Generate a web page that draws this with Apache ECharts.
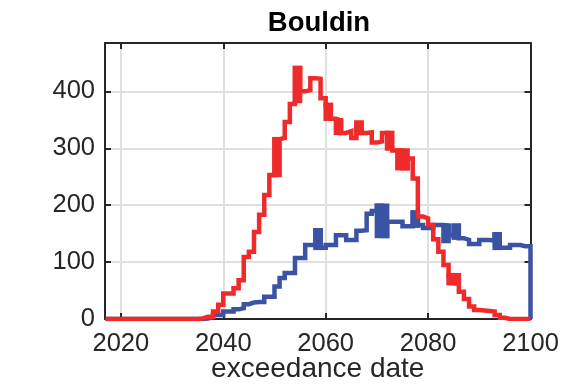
<!DOCTYPE html>
<html><head><meta charset="utf-8">
<script src="https://cdn.jsdelivr.net/npm/echarts@6/dist/echarts.min.js"></script>
<style>html,body{margin:0;padding:0;background:#fff}#c{width:567px;height:391px}</style>
</head><body><div id="c"></div>
<script>
// bin left edges (1-year bins), last entry is the closing edge
const binEdges = [2017,2018,2019,2020,2021,2022,2023,2024,2025,2026,2027,2028,2029,2030,2031,2032,2033,2034,
  2035,2036,2037,2038,2039,2040,2041,2042,2043,2044,2045,2046,2047,2048,2049,2050,2051,2052,2053,2054,
  2055,2056,2057,2058,2059,2060,2061,2062,2063,2064,2065,2066,2067,2068,2069,2070,2071,2072,2073,2074,
  2075,2076,2077,2078,2079,2080,2081,2082,2083,2084,2085,2086,2087,2088,2089,2090,2091,2092,2093,2094,
  2095,2096,2097,2098,2099,2100];
const redCounts = [0,0,0,0,0,0,0,0,0,0,0,0,0,0,0,0,0,0,
  1,4,4,13,25,45,45,54,68,109,118,153,183,218,253,316,318,346,378,441,
  400,402,423,422,388,376,352,349,327,330,318,345,327,328,310,312,327,300,296,296,
  265,282,247,180,177,165,140,118,95,77,63,48,35,22,16,15,14,13,7,2,
  0,0,0,0,0];
const blueCounts = [0,0,0,0,0,0,0,0,0,0,0,0,0,0,0,0,0,0,
  0,1,3,7,7,13,13,17,19,26,29,30,30,39,39,57,72,81,81,107,
  107,130,130,156,125,130,130,147,147,139,139,155,156,185,190,199,146,171,171,171,
  163,163,187,165,160,160,165,165,164,147,164,142,139,132,132,139,139,138,149,125,
  125,130,130,128,128];
// bins where the outline is a solid filled block: [startYear, endYear, low, high]
const redBlocks = [[2050,2051,253,316],[2054,2055,383,441],[2060,2061,352,376],[2062,2063,327,349],
  [2066,2067,327,345],[2072,2073,300,327],[2074,2076,265,296],[2084,2086,63,77]];
const blueBlocks = [[2058,2059,125,156],[2070,2072,146,199],[2077,2078,164,187],[2083,2084,137,164],
  [2085,2086,143,164],[2093,2094,125,149]];
const xTickLabels = [2020,2040,2060,2080,2100];
const yTickLabels = [0,100,200,300,400];

const RED = '#EE2A2A', BLUE = '#3A53A4', LW = 4.5;
function stairs(counts){
  const pts = counts.map((v,i)=>[binEdges[i], v]);
  pts.push([binEdges[binEdges.length-1], 0]);
  return pts;
}
function blockSeries(blocks, color, z){
  return {type:'custom', data:blocks, z:z, clip:true,
    encode:{x:[0,1], y:[2,3]},
    renderItem:(params, api)=>{
      const p0 = api.coord([api.value(0), api.value(3)]);
      const p1 = api.coord([api.value(1), api.value(2)]);
      const h = LW/2;
      return {type:'rect', shape:{x:p0[0]-h, y:p0[1]-h, width:p1[0]-p0[0]+2*h, height:p1[1]-p0[1]+2*h},
        style:{fill:color}};
    }};
}
const FONT = '"Liberation Sans", Arial, Helvetica, sans-serif';
const AX = '#262626';
const chart = echarts.init(document.getElementById('c'), null, {renderer:'canvas'});
const baseX = {
  type:'value', min:2016.9, max:2100, splitNumber:4,
  axisLine:{show:true, onZero:false, lineStyle:{color:AX, width:2}},
  axisTick:{show:true, inside:true, length:6, lineStyle:{color:AX, width:2}},
};
const baseY = {
  type:'value', min:0, max:485, interval:100,
  axisLine:{show:true, onZero:false, lineStyle:{color:AX, width:2}},
  axisTick:{show:true, inside:true, length:6, lineStyle:{color:AX, width:2}},
};
chart.setOption({
  animation:false,
  title:{text:'Bouldin', left:314, top:4, textAlign:'center',
    textStyle:{fontFamily:FONT, fontWeight:'bold', fontSize:27.5, color:'#000'}},
  grid:{left:105, right:36.5, top:43, bottom:72, containLabel:false, outerBoundsMode:'none'},
  xAxis:[
    Object.assign({}, baseX, {position:'bottom',
      name:'exceedance date', nameLocation:'middle', nameGap:36, nameMoveOverlap:false,
      nameTextStyle:{fontFamily:FONT, fontSize:28, color:AX},
      axisLabel:{show:true, margin:12, fontFamily:FONT, fontSize:25.5, color:AX,
        formatter:v=> xTickLabels.includes(v) ? String(v) : ''},
      splitLine:{show:true, lineStyle:{color:'#E0E0E0', width:2}}}),
    Object.assign({}, baseX, {position:'top', axisLabel:{show:false}, splitLine:{show:false}})
  ],
  yAxis:[
    Object.assign({}, baseY, {position:'left',
      axisLabel:{show:true, margin:10, fontFamily:FONT, fontSize:25.5, color:AX,
        formatter:v=> yTickLabels.includes(v) ? String(v) : ''},
      splitLine:{show:true, lineStyle:{color:'#E0E0E0', width:2}}}),
    Object.assign({}, baseY, {position:'right', axisLabel:{show:false}, splitLine:{show:false}})
  ],
  series:[
    {type:'line', name:'blue', step:'end', data:stairs(blueCounts), showSymbol:false,
      lineStyle:{color:BLUE, width:LW, join:'miter', cap:'butt'}, z:3},
    blockSeries(blueBlocks, BLUE, 3),
    {type:'line', name:'red', step:'end', data:stairs(redCounts), showSymbol:false,
      lineStyle:{color:RED, width:LW, join:'miter', cap:'butt'}, z:4},
    blockSeries(redBlocks, RED, 4)
  ]
});
</script></body></html>
